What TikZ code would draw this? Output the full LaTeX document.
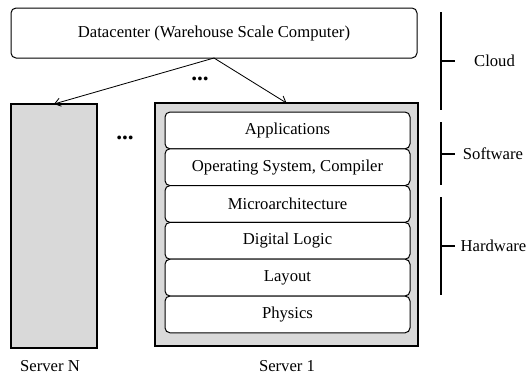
\documentclass[tikz,border=0pt]{standalone}
\usepackage{fontspec}
\setmainfont{Liberation Serif}
\usetikzlibrary{arrows.meta}
\begin{document}
\begin{tikzpicture}[x=0.6pt,y=-0.6pt,
  font=\fontsize{10}{12}\selectfont,
  box/.style={draw, line width=0.6pt, inner sep=0pt, outer sep=0pt},
  roundbox/.style={box, rounded corners=3pt},
  server/.style={box, line width=1pt, fill=black!15},
  layer/.style={roundbox, fill=white, minimum width=245*0.6pt, minimum height=36.8*0.6pt},
  link/.style={line width=0.5pt, -{Straight Barb[length=3.5pt,width=5pt]}},
  brace/.style={line width=1.2pt},
  dots/.style={font=\fontsize{14}{14}\selectfont\bfseries},
  side/.style={anchor=center}]
\useasboundingbox (0,0) rectangle (527,381);

% datacenter
\node[roundbox, minimum width=406*0.6pt, minimum height=50*0.6pt] (dc) at (214,33)
  {Datacenter (Warehouse Scale Computer)};

% servers
\node[server, minimum width=86*0.6pt, minimum height=244*0.6pt] (sN) at (54,226) {};
\node[server, minimum width=263*0.6pt, minimum height=243*0.6pt] (s1) at (286.5,224.5) {};

\node (lN) at (50,366) {Server N};
\node (l1) at (287,366) {Server 1};

% layer stack inside server 1
\foreach \i/\t in {0/Applications,1/{Operating System, Compiler},2/Microarchitecture,
                   3/Digital Logic,4/Layout,5/Physics}
  \node[layer] (ly\i) at (287.5,{112+36.8*(\i+0.5)}) {\t};

% connectors
\draw[link] (dc.south) -- (sN.north);
\draw[link] (dc.south) -- (s1.north);

% ellipses
\node[dots] (d1) at (200,79) {...};
\node[dots] (d2) at (125,138) {...};

% side brackets
\draw[brace] (441,12) -- (441,110) (441,61) -- (455,61);
\draw[brace] (441,122) -- (441,185) (441,153.5) -- (455,153.5);
\draw[brace] (441,197) -- (441,295) (441,246) -- (455,246);
\node[side] (cl) at (494.5,61) {Cloud};
\node[side] (sw) at (493,153.5) {Software};
\node[side] (hw) at (493.5,246) {Hardware};
\end{tikzpicture}
\end{document}
